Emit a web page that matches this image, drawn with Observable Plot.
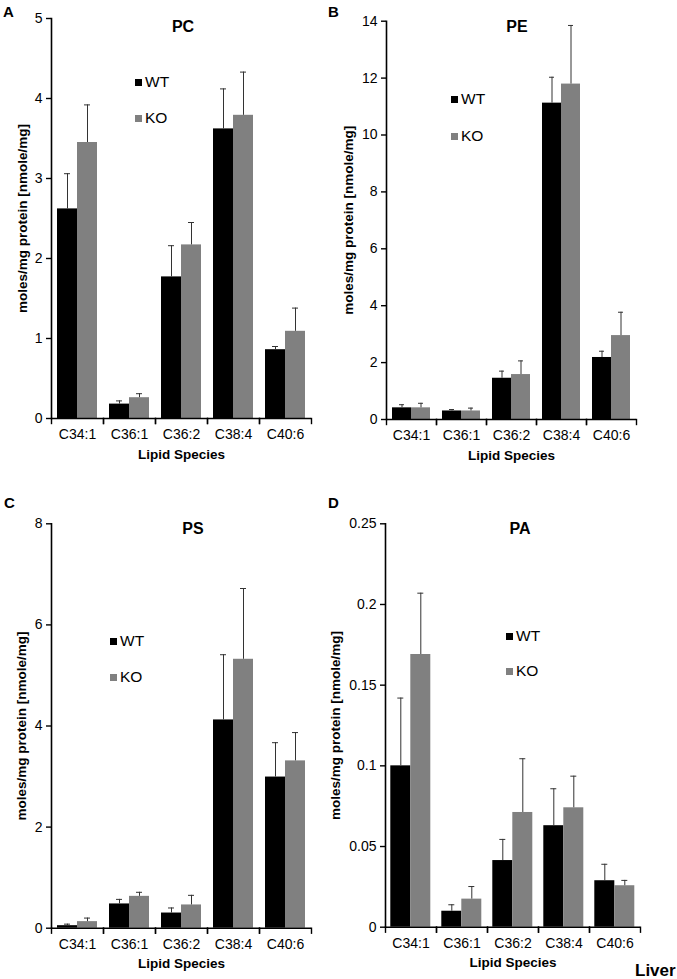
<!DOCTYPE html>
<html>
<head>
<meta charset="utf-8">
<script src="https://cdn.jsdelivr.net/npm/d3@7"></script>
<script src="https://cdn.jsdelivr.net/npm/@observablehq/plot@0.6"></script>
<style>
  html, body { margin: 0; padding: 0; background: #fff; }
  #root { position: relative; width: 677px; height: 979px; overflow: hidden; font-family: "Liberation Sans", Arial, sans-serif; color: #000; }
  .panel { position: absolute; }
  .panel svg { overflow: visible; }
  .panel g[aria-label="y-axis label"], .panel g[aria-label="fx-axis label"] { font-weight: bold; font-size: 13.5px; }
  .t { position: absolute; line-height: 1; white-space: nowrap; }
  .sw { position: absolute; width: 7px; height: 7px; }
</style>
</head>
<body>
<div id="root"></div>
<script>
// ---------------- data ----------------
const categories = ["C34:1", "C36:1", "C36:2", "C38:4", "C40:6"];
const groups = ["WT", "KO"];

const pcWT    = [2.62, 0.18, 1.77, 3.62, 0.86];
const pcWTErr = [0.44, 0.04, 0.39, 0.50, 0.04];
const pcKO    = [3.45, 0.26, 2.17, 3.79, 1.09];
const pcKOErr = [0.47, 0.05, 0.28, 0.54, 0.29];

const peWT    = [0.41, 0.30, 1.45, 11.12, 2.18];
const peWTErr = [0.11, 0.05, 0.25, 0.91, 0.22];
const peKO    = [0.41, 0.30, 1.58, 11.79, 2.95];
const peKOErr = [0.16, 0.10, 0.48, 2.06, 0.82];

const psWT    = [0.05, 0.48, 0.30, 4.12, 2.99];
const psWTErr = [0.03, 0.09, 0.10, 1.29, 0.68];
const psKO    = [0.13, 0.63, 0.46, 5.32, 3.31];
const psKOErr = [0.07, 0.08, 0.19, 1.40, 0.56];

const paWT    = [0.100, 0.0099, 0.0413, 0.0629, 0.0288];
const paWTErr = [0.042, 0.0040, 0.0131, 0.0229, 0.0102];
const paKO    = [0.169, 0.0174, 0.0711, 0.0740, 0.0257];
const paKOErr = [0.038, 0.0078, 0.0333, 0.0196, 0.0033];

const pcTicks = [0, 1, 2, 3, 4, 5];
const peTicks = [0, 2, 4, 6, 8, 10, 12, 14];
const psTicks = [0, 2, 4, 6, 8];
const paTicks = [0, 0.05, 0.1, 0.15, 0.2, 0.25];

const yLabel = "moles/mg protein [nmole/mg]";
const xLabel = "Lipid Species";
const colors = ["#000000", "#808080"];

// ---------------- drawing ----------------
const root = document.getElementById("root");

function rowsOf(wt, wtErr, ko, koErr) {
  return categories.flatMap((c, i) => [
    {cat: c, group: "WT", value: wt[i], upper: wt[i] + wtErr[i]},
    {cat: c, group: "KO", value: ko[i], upper: ko[i] + koErr[i]}
  ]);
}

function panel(rows, ticks, L) {
  const plotH = L.height - L.mT - L.mB;
  const chart = Plot.plot({
    width: L.width, height: L.height,
    marginTop: L.mT, marginBottom: L.mB, marginLeft: L.mL, marginRight: L.mR,
    style: {fontFamily: "'Liberation Sans', Arial, sans-serif", fontSize: "14px", color: "#000", background: "transparent", overflow: "visible"},
    fx: {domain: categories, padding: 0},
    x: {domain: groups, paddingInner: 0, paddingOuter: 0.27, axis: null},
    y: {domain: [ticks[0], ticks[ticks.length - 1]], nice: false},
    color: {domain: groups, range: colors},
    marks: [
      Plot.barY(rows, {fx: "cat", x: "group", y: "value", fill: "group"}),
      Plot.ruleX(rows, {fx: "cat", x: "group", y1: "value", y2: "upper", stroke: "#333", strokeWidth: 1}),
      Plot.tickY(rows, {fx: "cat", x: "group", y: "upper", stroke: "#333", strokeWidth: 1, insetLeft: 7, insetRight: 7}),
      Plot.ruleY([ticks[0]], {stroke: "#000", strokeWidth: 1.6}),
      Plot.frame({anchor: "left", facetAnchor: "left", stroke: "#000", strokeWidth: 1.6}),
      Plot.frame({anchor: "left", insetTop: plotH, insetBottom: -5, stroke: "#000", strokeWidth: 1.4}),
      Plot.frame({anchor: "right", insetTop: plotH, insetBottom: -5, stroke: "#000", strokeWidth: 1.4}),
      Plot.axisY({ticks: ticks, tickFormat: d => String(d), tickSize: 5, tickPadding: 4, fontSize: 14, stroke: "#000", strokeWidth: 1.4,
                  label: yLabel, labelAnchor: "center", labelArrow: "none", labelOffset: L.yOff}),
      Plot.axisFx({anchor: "bottom", tickSize: 0, tickPadding: 11, fontSize: 14, label: xLabel, labelAnchor: "center", labelArrow: "none", labelOffset: 40})
    ]
  });
  const div = document.createElement("div");
  div.className = "panel";
  div.style.left = L.left + "px";
  div.style.top = L.top + "px";
  div.appendChild(chart);
  root.appendChild(div);
}

function text(str, x, y, size, weight, anchor) {
  const d = document.createElement("div");
  d.className = "t";
  d.textContent = str;
  d.style.left = x + "px";
  d.style.top = y + "px";
  d.style.fontSize = size + "px";
  d.style.fontWeight = weight;
  d.style.transform = anchor === "middle" ? "translate(-50%,-50%)" : "translate(0,-50%)";
  root.appendChild(d);
}

function legend(x, y1, y2) {
  [[groups[0], colors[0], y1], [groups[1], colors[1], y2]].forEach(([g, c, y]) => {
    const s = document.createElement("div");
    s.className = "sw";
    s.style.left = x + "px";
    s.style.top = (y - 3.5) + "px";
    s.style.background = c;
    root.appendChild(s);
    text(g, x + 10, y, 15.5, "normal", "start");
  });
}

panel(rowsOf(pcWT, pcWTErr, pcKO, pcKOErr), pcTicks, {left: 0, top: 0, width: 338, height: 475, mT: 18, mB: 57, mL: 50, mR: 26, yOff: 34});
panel(rowsOf(peWT, peWTErr, peKO, peKOErr), peTicks, {left: 325, top: 0, width: 352, height: 475, mT: 20.7, mB: 56, mL: 59, mR: 40, yOff: 43});
panel(rowsOf(psWT, psWTErr, psKO, psKOErr), psTicks, {left: 0, top: 480, width: 338, height: 499, mT: 43.3, mB: 51.3, mL: 50, mR: 26, yOff: 35});
panel(rowsOf(paWT, paWTErr, paKO, paKOErr), paTicks, {left: 325, top: 480, width: 352, height: 499, mT: 43.3, mB: 52.3, mL: 58.7, mR: 35.7, yOff: 55});

text("PC", 183, 27, 16, "bold", "middle");
text("PE", 517, 27, 16, "bold", "middle");
text("PS", 193, 529, 16, "bold", "middle");
text("PA", 520, 529, 16, "bold", "middle");

text("A", 3, 11, 15, "bold", "start");
text("B", 328, 11, 15, "bold", "start");
text("C", 4, 502, 15, "bold", "start");
text("D", 328, 502, 15, "bold", "start");

legend(135, 82, 118);
legend(451, 99, 136);
legend(110, 641, 677);
legend(506, 636, 671);

text("Liver", 635, 970, 17, "bold", "start");
</script>
</body>
</html>
